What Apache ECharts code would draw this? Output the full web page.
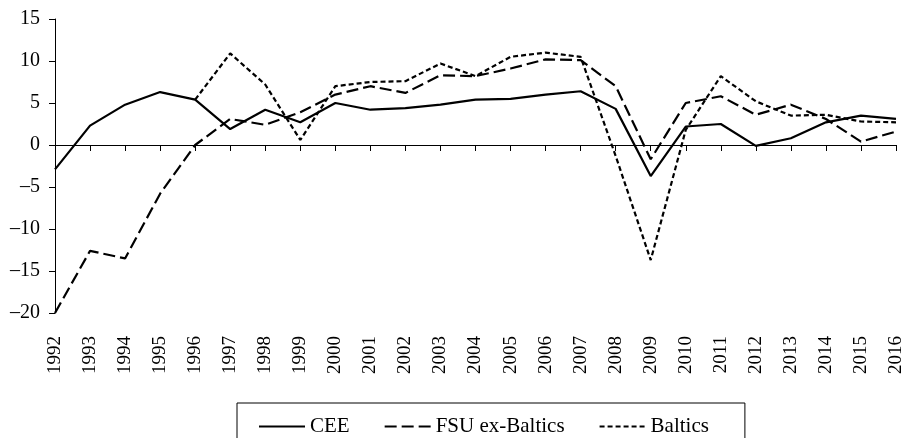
<!DOCTYPE html>
<html>
<head>
<meta charset="utf-8">
<script src="https://cdn.jsdelivr.net/npm/echarts@6/dist/echarts.min.js"></script>
<style>
  html, body { margin: 0; padding: 0; background: #fff; }
  #chart { width: 907px; height: 438px; }
</style>
</head>
<body>
<div id="chart"></div>
<script>
  // years on the x axis
  const years = ['1992', '1993', '1994', '1995', '1996', '1997', '1998', '1999', '2000', '2001', '2002', '2003',
    '2004', '2005', '2006', '2007', '2008', '2009', '2010', '2011', '2012', '2013', '2014', '2015', '2016']

  // growth, %
  const cee = [-2.9, 2.3, 4.8, 6.3, 5.4, 1.9, 4.2, 2.7, 5.0, 4.2, 4.4, 4.8,
    5.4, 5.5, 6.0, 6.4, 4.3, -3.7, 2.2, 2.5, -0.1, 0.8, 2.7, 3.5, 3.1]
  const fsu = [-20.0, -12.6, -13.5, -5.8, 0.0, 3.1, 2.4, 3.9, 6.0, 7.0, 6.2, 8.3,
    8.2, 9.1, 10.2, 10.1, 7.0, -1.7, 5.0, 5.8, 3.6, 4.8, 3.1, 0.4, 1.6]
  const baltics = [null, null, null, null, 5.4, 10.9, 7.2, 0.6, 7.0, 7.5, 7.6, 9.7,
    8.2, 10.5, 11.0, 10.5, -1.3, -13.7, 1.8, 8.2, 5.2, 3.5, 3.6, 2.8, 2.7]

  const yTicks = { min: -20, max: 15, step: 5 }

  const font = 'Liberation Serif'
  const chart = echarts.init(document.getElementById('chart'))

  const mkLine = (name, data, type) => ({
    name: name,
    type: 'line',
    data: data,
    xAxisIndex: 0,
    showSymbol: false,
    symbol: 'none',
    animation: false,
    itemStyle: { color: '#000' },
    lineStyle: { color: '#000', width: 2.2, type: type }
  })

  chart.setOption({
    backgroundColor: '#fff',
    grid: { left: 55, right: 11, top: 19, bottom: 125 },
    legend: {
      top: 403,
      left: 237,
      itemWidth: 46,
      itemHeight: 10,
      itemGap: 34,
      padding: [13, 36, 30, 21],
      borderColor: '#000',
      borderWidth: 1,
      itemStyle: { opacity: 0 },
      textStyle: { fontFamily: font, fontSize: 21, color: '#000' },
      data: ['CEE', 'FSU ex-Baltics', 'Baltics']
    },
    xAxis: [{
      type: 'category',
      data: years,
      boundaryGap: false,
      position: 'bottom',
      axisLine: { onZero: true, lineStyle: { color: '#000', width: 1 } },
      axisTick: { show: true, inside: false, length: 6, alignWithLabel: true, lineStyle: { color: '#000' } },
      axisLabel: { show: false },
      splitLine: { show: false }
    }, {
      type: 'category',
      data: years,
      boundaryGap: false,
      position: 'bottom',
      axisLine: { show: false, onZero: false },
      axisTick: { show: false },
      axisLabel: { rotate: 90, margin: 23, fontFamily: font, fontSize: 19, color: '#000', interval: 0 },
      splitLine: { show: false }
    }],
    yAxis: {
      type: 'value',
      min: yTicks.min,
      max: yTicks.max,
      interval: yTicks.step,
      axisLine: { show: true, lineStyle: { color: '#000', width: 1 } },
      axisTick: { show: true, length: 6, lineStyle: { color: '#000' } },
      axisLabel: {
        margin: 15,
        fontFamily: font,
        fontSize: 20,
        color: '#000',
        formatter: v => (v < 0 ? '\u2013' + Math.abs(v) : String(v))
      },
      splitLine: { show: false }
    },
    series: [
      mkLine('CEE', cee, 'solid'),
      mkLine('FSU ex-Baltics', fsu, [12, 5]),
      mkLine('Baltics', baltics, [5, 3])
    ]
  })
</script>
</body>
</html>
